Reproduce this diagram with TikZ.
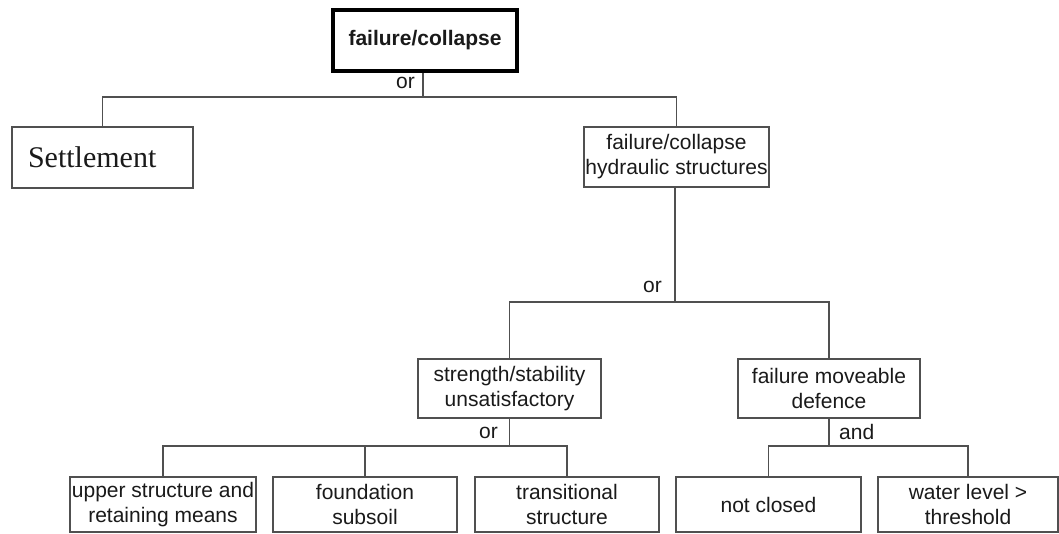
\documentclass[tikz,border=0pt]{standalone}
\usepackage{fontspec}
\setmainfont{Liberation Sans}
\newfontfamily\serifx{Liberation Serif}
\definecolor{linec}{HTML}{505050}
\definecolor{txt}{HTML}{1A1A1A}
\begin{document}
\begin{tikzpicture}[x=1pt,y=1pt,
  box/.style={draw=linec, line width=1.2pt, fill=white, inner sep=0pt, align=center,
    font=\fontsize{21}{25}\selectfont, text=txt, minimum height=59pt},
  topbox/.style={box, draw=black, line width=3.5pt},
  lbl/.style={inner sep=0pt, font=\fontsize{21}{25}\selectfont, text=txt},
  conn/.style={draw=linec, line width=1.2pt}]
\useasboundingbox (0,0) rectangle (1059,-533);
\fill[white] (0,0) rectangle (1059,-533);

% nodes
\node[topbox, minimum width=184pt, minimum height=61pt] (top) at (425,-40.5) {\bfseries failure/collapse};
\node[box, minimum width=181pt, minimum height=61pt, text width=149pt, align=left,
  font=\serifx\fontsize{30}{32}\selectfont] (settle) at (102.5,-157.5) {Settlement};
\node[box, minimum width=185pt, minimum height=60pt] (hyd) at (676.5,-157) {failure/collapse\\hydraulic structures};
\node[box, minimum width=183pt] (str) at (509.5,-388.5) {strength/stability\\unsatisfactory};
\node[box, minimum width=182pt] (mov) at (829,-388.5) {failure moveable\\defence};
\node[box, minimum width=186pt, minimum height=55pt] (upper) at (163,-504.5) {upper structure and\\retaining means};
\node[box, minimum width=184pt, minimum height=55pt] (found) at (365,-504.5) {foundation\\subsoil};
\node[box, minimum width=184pt, minimum height=55pt] (trans) at (567,-504.5) {transitional\\structure};
\node[box, minimum width=185pt, minimum height=55pt] (notc) at (768.5,-504.5) {not closed};
\node[box, minimum width=180pt, minimum height=55pt] (water) at (968,-504.5) {water level \textgreater\\threshold};

% bus levels
\coordinate (bus1) at (0,-97);
\coordinate (bus2) at (0,-302);
\coordinate (bus3) at (0,-446);

% connectors
\draw[conn] ([xshift=-2pt]top.south) -- ([xshift=-2pt]top.south |- bus1);
\draw[conn] (settle.north) |- (hyd.north |- bus1) -- (hyd.north);
\draw[conn] ([xshift=-1.5pt]hyd.south) -- ([xshift=-1.5pt]hyd.south |- bus2);
\draw[conn] (str.north) |- (mov.north |- bus2) -- (mov.north);
\draw[conn] (str.south) -- (str.south |- bus3);
\draw[conn] (upper.north) |- (trans.north |- bus3) -- (trans.north);
\draw[conn] (found.north) -- (found.north |- bus3);
\draw[conn] (mov.south) -- (mov.south |- bus3);
\draw[conn] (notc.north) |- (water.north |- bus3) -- (water.north);

% gate labels
\node[lbl, anchor=east] (or1) at (415,-83) {or};
\node[lbl, anchor=east] (or2) at (662,-287) {or};
\node[lbl, anchor=east] (or3) at (498,-433) {or};
\node[lbl, anchor=west] (and1) at (839,-432) {and};
\end{tikzpicture}
\end{document}
